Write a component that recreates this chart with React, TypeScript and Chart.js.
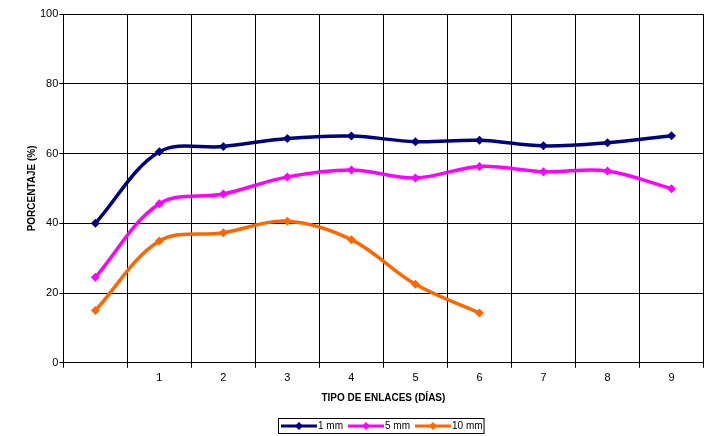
import React, { useEffect, useRef } from 'react';
import { Chart, registerables } from 'chart.js';
Chart.register(...registerables);

const categories = ['', '1', '2', '3', '4', '5', '6', '7', '8', '9'];
const series1mm = [40.0, 60.5, 62.0, 64.3, 65.0, 63.4, 63.8, 62.2, 63.1, 65.1];
const series5mm = [24.5, 45.6, 48.4, 53.3, 55.3, 53.0, 56.3, 54.8, 55.0, 49.9];
const series10mm = [15.0, 34.9, 37.3, 40.6, 35.3, 22.5, 14.3, null, null, null];
const seriesNames = ['1 mm', '5 mm', '10 mm'];
const seriesColors = ['#000080', '#FF00FF', '#FF6600'];
const yMin = 0;
const yMax = 100;
const yStep = 20;
const xTitle = 'TIPO DE ENLACES (DÍAS)';
const yTitle = 'PORCENTAJE (%)';

const FONT = '"Liberation Sans", Arial, sans-serif';

const boxedLegend = {
  id: 'boxedLegend',
  afterDraw(chart: any) {
    const ctx = chart.ctx;
    ctx.save();
    ctx.font = `10px ${FONT}`;
    const lineLen = 36;
    const gap = 1;
    const itemGap = 5;
    const datasets = chart.data.datasets;
    const widths = datasets.map((d: any) => lineLen + gap + ctx.measureText(d.label).width);
    const total = widths.reduce((a: number, b: number) => a + b, 0) + itemGap * (datasets.length - 1) + 4;
    const left = 278;
    const top = 418;
    const h = 15;
    ctx.strokeStyle = '#000';
    ctx.lineWidth = 1;
    ctx.strokeRect(left + 0.5, top + 0.5, total, h);
    let x = left + 3;
    const cy = top + h / 2 + 0.5;
    datasets.forEach((d: any, i: number) => {
      ctx.strokeStyle = d.borderColor;
      ctx.lineWidth = 3;
      ctx.beginPath();
      ctx.moveTo(x, cy);
      ctx.lineTo(x + lineLen, cy);
      ctx.stroke();
      ctx.fillStyle = d.borderColor;
      const mx = x + lineLen / 2;
      const r = 4;
      ctx.beginPath();
      ctx.moveTo(mx, cy - r);
      ctx.lineTo(mx + r, cy);
      ctx.lineTo(mx, cy + r);
      ctx.lineTo(mx - r, cy);
      ctx.closePath();
      ctx.fill();
      ctx.fillStyle = '#000';
      ctx.textBaseline = 'middle';
      ctx.textAlign = 'left';
      ctx.fillText(d.label, x + lineLen + gap, cy + 0.5);
      x += widths[i] + itemGap;
    });
    ctx.restore();
  },
};

export default function App() {
  const ref = useRef<HTMLCanvasElement | null>(null);
  useEffect(() => {
    document.body.style.margin = '0';
    if (!ref.current) return;
    const allSeries = [series1mm, series5mm, series10mm];
    const chart = new Chart(ref.current, {
      type: 'line',
      data: {
        labels: categories,
        datasets: allSeries.map((s, i) => ({
          label: seriesNames[i],
          data: s,
          borderColor: seriesColors[i],
          backgroundColor: seriesColors[i],
          borderWidth: 3.5,
          pointStyle: 'rectRot',
          pointRadius: 4.5,
          pointBorderWidth: 0,
          tension: 0.35,
          fill: false,
          spanGaps: false,
        })),
      },
      options: {
        responsive: false,
        animation: false,
        devicePixelRatio: 1,
        layout: { padding: { top: 14, right: 0, bottom: 28, left: 25 } },
        plugins: {
          legend: { display: false },
          tooltip: { enabled: false },
        },
        scales: {
          x: {
            type: 'category',
            offset: true,
            grid: {
              offset: true,
              color: '#000',
              lineWidth: 1,
              tickLength: 5,
              tickColor: '#000',
            },
            border: { color: '#000', width: 1 },
            ticks: {
              color: '#000',
              font: { family: FONT, size: 11 },
              maxRotation: 0,
              autoSkip: false,
              padding: 4,
            },
            title: {
              display: true,
              text: xTitle,
              color: '#000',
              font: { family: FONT, size: 10, weight: 'bold' },
              padding: { top: 3, bottom: 4 },
            },
          },
          y: {
            min: yMin,
            max: yMax,
            grid: {
              color: '#000',
              lineWidth: 1,
              tickLength: 4,
              tickColor: '#000',
            },
            border: { color: '#000', width: 1 },
            ticks: {
              stepSize: yStep,
              color: '#000',
              font: { family: FONT, size: 11 },
              padding: 1,
            },
            title: {
              display: true,
              text: yTitle,
              color: '#000',
              font: { family: FONT, size: 10, weight: 'bold' },
              padding: { top: 1, bottom: 1 },
            },
          },
        },
      },
      plugins: [boxedLegend],
    });
    return () => chart.destroy();
  }, []);
  return (
    <div style={{ width: 708, height: 436 }}>
      <canvas ref={ref} width={708} height={436} style={{ display: 'block' }} />
    </div>
  );
}
